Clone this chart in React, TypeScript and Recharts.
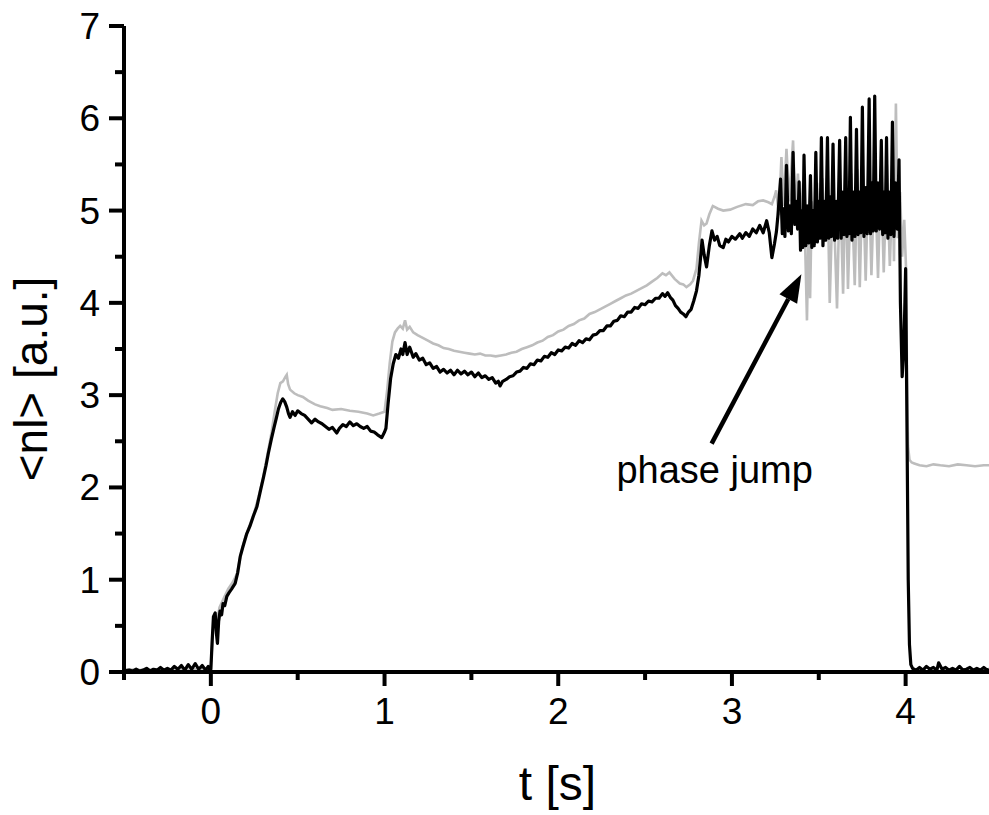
import { LineChart, Line, XAxis, YAxis, ReferenceLine, Label } from 'recharts';

// [t (s), <nl> (a.u.)]
const blackTrace: [number, number][] = [
  [-0.5, 0.01], [-0.47, 0.02], [-0.45, 0.01], [-0.43, 0.03], [-0.41, 0.01], [-0.39, 0.02], [-0.37, 0.04],
  [-0.35, 0.01], [-0.33, 0.03], [-0.31, 0.02], [-0.29, 0.05], [-0.27, 0.02], [-0.25, 0.04], [-0.23, 0.02],
  [-0.21, 0.06], [-0.19, 0.03], [-0.17, 0.07], [-0.15, 0.02], [-0.13, 0.08], [-0.11, 0.03], [-0.09, 0.09],
  [-0.07, 0.03], [-0.05, 0.07], [-0.03, 0.02], [-0.015, 0.06], [-0.005, 0.02],
  [0.0, 0.03], [0.008, 0.35], [0.015, 0.6], [0.025, 0.64], [0.032, 0.42], [0.038, 0.31], [0.045, 0.55],
  [0.053, 0.66], [0.062, 0.62], [0.07, 0.74], [0.08, 0.72], [0.092, 0.82], [0.105, 0.86], [0.12, 0.9],
  [0.14, 0.96], [0.155, 1.08], [0.169, 1.25], [0.185, 1.36], [0.207, 1.5], [0.225, 1.58], [0.245, 1.69],
  [0.265, 1.79], [0.285, 1.96], [0.303, 2.11], [0.318, 2.24], [0.331, 2.37], [0.348, 2.52], [0.364, 2.65],
  [0.378, 2.76], [0.389, 2.85], [0.402, 2.92], [0.414, 2.96], [0.425, 2.93], [0.437, 2.87], [0.447, 2.8],
  [0.456, 2.76], [0.47, 2.82], [0.485, 2.78], [0.5, 2.83], [0.52, 2.8], [0.54, 2.78], [0.56, 2.74],
  [0.58, 2.7], [0.6, 2.74], [0.62, 2.71], [0.64, 2.69], [0.66, 2.66], [0.68, 2.63], [0.7, 2.65],
  [0.725, 2.59], [0.74, 2.64], [0.76, 2.68], [0.78, 2.66], [0.8, 2.71], [0.82, 2.67], [0.84, 2.69],
  [0.86, 2.66], [0.88, 2.64], [0.9, 2.66], [0.92, 2.61], [0.94, 2.6], [0.96, 2.57], [0.984, 2.54],
  [1.0, 2.6], [1.008, 2.64],
  [1.02, 2.9], [1.035, 3.18], [1.05, 3.34], [1.065, 3.44], [1.08, 3.4], [1.095, 3.5], [1.105, 3.44],
  [1.118, 3.57], [1.13, 3.44], [1.145, 3.52], [1.165, 3.41], [1.18, 3.45], [1.2, 3.38], [1.22, 3.4],
  [1.24, 3.33], [1.26, 3.35], [1.28, 3.29], [1.3, 3.31], [1.32, 3.25], [1.34, 3.28], [1.36, 3.24],
  [1.38, 3.27], [1.4, 3.22], [1.42, 3.27], [1.44, 3.23], [1.46, 3.26], [1.48, 3.22], [1.5, 3.25],
  [1.52, 3.2], [1.54, 3.24], [1.56, 3.19], [1.58, 3.21], [1.6, 3.17], [1.62, 3.19], [1.64, 3.13],
  [1.655, 3.15], [1.665, 3.1], [1.68, 3.15], [1.7, 3.17], [1.72, 3.2], [1.74, 3.21], [1.76, 3.25],
  [1.78, 3.26], [1.8, 3.3], [1.82, 3.29], [1.84, 3.34], [1.86, 3.33], [1.88, 3.38], [1.9, 3.37],
  [1.92, 3.42], [1.94, 3.41], [1.96, 3.46], [1.98, 3.44], [2.0, 3.49], [2.02, 3.48], [2.04, 3.52],
  [2.06, 3.51], [2.08, 3.56], [2.1, 3.54], [2.12, 3.59], [2.14, 3.57], [2.16, 3.61], [2.18, 3.6],
  [2.2, 3.65], [2.22, 3.66], [2.24, 3.7], [2.26, 3.7], [2.28, 3.75], [2.3, 3.75], [2.32, 3.8],
  [2.34, 3.81], [2.36, 3.86], [2.38, 3.85], [2.4, 3.9], [2.42, 3.9], [2.44, 3.95], [2.46, 3.94],
  [2.48, 3.99], [2.5, 3.98], [2.52, 4.02], [2.54, 4.01], [2.56, 4.05], [2.58, 4.05], [2.6, 4.1],
  [2.615, 4.07], [2.63, 4.11], [2.645, 4.06], [2.66, 4.03], [2.675, 3.97], [2.69, 3.94], [2.705, 3.9],
  [2.72, 3.88], [2.735, 3.85], [2.75, 3.9], [2.765, 3.93], [2.78, 4.02], [2.796, 4.13], [2.81, 4.3],
  [2.82, 4.5], [2.828, 4.68], [2.84, 4.52], [2.854, 4.39], [2.87, 4.62], [2.885, 4.78], [2.9, 4.68],
  [2.915, 4.72], [2.93, 4.62], [2.95, 4.6], [2.965, 4.69], [2.98, 4.66], [3.0, 4.72], [3.02, 4.69],
  [3.045, 4.75], [3.06, 4.7], [3.08, 4.76], [3.1, 4.72], [3.12, 4.8], [3.14, 4.76], [3.16, 4.84],
  [3.18, 4.76], [3.2, 4.89], [3.215, 4.76], [3.23, 4.49], [3.245, 4.64], [3.256, 4.77],
  [3.265, 4.95], [3.28, 5.34], [3.29, 4.75], [3.297, 5.02], [3.305, 4.72], [3.314, 5.49], [3.325, 4.78],
  [3.333, 5.05], [3.342, 4.75], [3.352, 5.63], [3.362, 4.85], [3.37, 5.1], [3.378, 4.8], [3.387, 5.31],
  [3.395, 4.57], [3.402, 5.0], [3.408, 4.6], [3.415, 5.6], [3.425, 4.62], [3.433, 5.05], [3.442, 4.65],
  [3.452, 5.38], [3.46, 4.6], [3.467, 5.0], [3.474, 4.62], [3.483, 5.63], [3.492, 4.66], [3.5, 5.1],
  [3.507, 4.7], [3.515, 5.79], [3.524, 4.62], [3.532, 5.1], [3.54, 4.68], [3.55, 5.79], [3.558, 4.7],
  [3.566, 5.15], [3.573, 4.72], [3.582, 5.72], [3.591, 4.68], [3.6, 5.1], [3.609, 4.7], [3.62, 5.76],
  [3.629, 4.7], [3.637, 5.2], [3.645, 4.74], [3.655, 5.79], [3.662, 4.72], [3.668, 5.1], [3.674, 4.75],
  [3.682, 6.01], [3.691, 4.68], [3.7, 5.2], [3.708, 4.72], [3.717, 5.88], [3.726, 4.74], [3.734, 5.2],
  [3.742, 4.76], [3.751, 6.12], [3.76, 4.72], [3.77, 5.25], [3.779, 4.75], [3.79, 6.21], [3.798, 4.75],
  [3.806, 5.3], [3.813, 4.78], [3.822, 6.24], [3.831, 4.78], [3.84, 5.3], [3.85, 4.8], [3.86, 5.76],
  [3.868, 4.74], [3.875, 5.2], [3.882, 4.76], [3.89, 5.79], [3.898, 4.7], [3.907, 5.2], [3.915, 4.74],
  [3.924, 5.96], [3.933, 4.72], [3.942, 5.3], [3.952, 4.8], [3.962, 5.55],
  [3.97, 4.0], [3.98, 3.2], [3.99, 3.5], [4.0, 4.37], [4.008, 2.6], [4.015, 1.0], [4.022, 0.3],
  [4.03, 0.08], [4.04, 0.04], [4.06, 0.02], [4.08, 0.05], [4.1, 0.02], [4.12, 0.06], [4.14, 0.03],
  [4.16, 0.05], [4.18, 0.02], [4.19, 0.1], [4.21, 0.03], [4.23, 0.05], [4.25, 0.02], [4.27, 0.04],
  [4.29, 0.02], [4.31, 0.06], [4.33, 0.02], [4.35, 0.03], [4.37, 0.05], [4.39, 0.02], [4.41, 0.04],
  [4.43, 0.02], [4.45, 0.05], [4.47, 0.02], [4.48, 0.03],
];

const grayTrace: [number, number][] = [
  [-0.5, 0.03], [-0.4, 0.02], [-0.3, 0.03], [-0.2, 0.02], [-0.1, 0.03], [0.0, 0.03], [0.01, 0.4],
  [0.02, 0.62], [0.035, 0.55], [0.05, 0.7], [0.075, 0.8], [0.1, 0.9], [0.125, 0.97], [0.15, 1.06],
  [0.175, 1.3], [0.2, 1.47], [0.225, 1.6], [0.25, 1.73], [0.275, 1.9], [0.3, 2.1], [0.325, 2.35],
  [0.35, 2.6], [0.37, 2.85], [0.385, 3.02], [0.4, 3.13], [0.415, 3.15], [0.43, 3.2], [0.437, 3.22],
  [0.445, 3.12], [0.456, 3.06], [0.48, 3.02], [0.5, 3.0], [0.53, 2.98], [0.56, 2.94], [0.6, 2.9],
  [0.63, 2.88], [0.67, 2.86], [0.7, 2.84], [0.75, 2.85], [0.8, 2.83], [0.85, 2.82], [0.9, 2.8],
  [0.935, 2.78], [0.97, 2.8], [1.0, 2.82], [1.015, 3.05], [1.03, 3.35], [1.045, 3.58], [1.06, 3.68],
  [1.075, 3.72], [1.09, 3.75], [1.105, 3.72], [1.118, 3.81], [1.13, 3.71], [1.145, 3.74], [1.165, 3.68],
  [1.19, 3.65], [1.22, 3.62], [1.25, 3.59], [1.28, 3.56], [1.31, 3.54], [1.34, 3.51], [1.37, 3.5],
  [1.4, 3.48], [1.43, 3.47], [1.46, 3.46], [1.49, 3.45], [1.52, 3.44], [1.55, 3.45], [1.58, 3.43],
  [1.61, 3.43], [1.64, 3.42], [1.67, 3.43], [1.7, 3.44], [1.73, 3.46], [1.76, 3.47], [1.79, 3.5],
  [1.82, 3.52], [1.85, 3.54], [1.88, 3.57], [1.91, 3.59], [1.94, 3.63], [1.97, 3.65], [2.0, 3.69],
  [2.03, 3.71], [2.06, 3.75], [2.09, 3.77], [2.12, 3.81], [2.15, 3.83], [2.18, 3.88], [2.21, 3.9],
  [2.24, 3.93], [2.27, 3.96], [2.3, 3.99], [2.33, 4.02], [2.36, 4.05], [2.39, 4.08], [2.42, 4.1],
  [2.45, 4.13], [2.48, 4.16], [2.51, 4.19], [2.54, 4.23], [2.57, 4.27], [2.6, 4.32], [2.62, 4.3],
  [2.64, 4.33], [2.67, 4.26], [2.7, 4.21], [2.72, 4.2], [2.738, 4.17], [2.76, 4.2], [2.776, 4.24],
  [2.796, 4.37], [2.81, 4.65], [2.825, 4.89], [2.84, 4.84], [2.854, 4.86], [2.87, 4.96], [2.89, 5.05],
  [2.92, 5.02], [2.95, 5.0], [2.99, 5.01], [3.03, 5.04], [3.08, 5.07], [3.12, 5.06], [3.15, 5.1],
  [3.18, 5.11], [3.21, 5.09], [3.23, 5.07], [3.245, 5.15], [3.255, 5.22],
  [3.27, 4.95], [3.285, 5.58], [3.298, 5.05], [3.314, 5.67], [3.33, 5.1], [3.352, 5.76], [3.365, 5.0],
  [3.38, 5.4], [3.395, 4.85], [3.41, 5.3], [3.422, 4.6], [3.432, 3.81], [3.442, 4.9], [3.45, 4.05],
  [3.46, 5.1], [3.475, 4.75], [3.49, 5.3], [3.505, 4.75], [3.52, 5.35], [3.537, 4.72], [3.55, 5.3],
  [3.563, 4.0], [3.582, 5.3], [3.605, 3.94], [3.622, 5.35], [3.64, 4.1], [3.655, 5.4], [3.668, 4.15],
  [3.687, 5.4], [3.707, 4.19], [3.722, 5.45], [3.736, 4.17], [3.753, 5.5], [3.77, 4.24], [3.787, 5.5],
  [3.803, 4.3], [3.822, 5.5], [3.841, 4.27], [3.858, 5.45], [3.874, 4.33], [3.892, 5.5], [3.909, 4.4],
  [3.925, 5.3], [3.933, 4.45], [3.944, 6.16], [3.955, 4.7], [3.968, 5.2], [3.98, 4.5], [3.992, 4.9],
  [4.002, 4.4], [4.008, 3.2], [4.014, 2.45], [4.022, 2.3], [4.035, 2.27], [4.05, 2.26], [4.08, 2.24],
  [4.12, 2.23], [4.16, 2.25], [4.2, 2.24], [4.25, 2.23], [4.3, 2.25], [4.35, 2.24], [4.4, 2.23],
  [4.45, 2.24], [4.48, 2.24],
];

const xTicks = [-0.5, 0, 0.5, 1, 1.5, 2, 2.5, 3, 3.5, 4];
const yTicks = [0, 0.5, 1, 1.5, 2, 2.5, 3, 3.5, 4, 4.5, 5, 5.5, 6, 6.5, 7];

const arrowFrom = { t: 2.883, n: 2.475 };
const arrowTo = { t: 3.4, n: 4.31 };

const blackData = blackTrace.map(([t, n]) => ({ t, n }));
const grayData = grayTrace.map(([t, n]) => ({ t, n }));

const AXIS_BOX = 30;
const isMajor = (v: number) => Math.abs(v - Math.round(v)) < 1e-6;

const XTick = ({ x, y, payload }: any) => {
  const major = isMajor(payload.value);
  return (
    <g>
      <line x1={x} x2={x} y1={y} y2={y + (major ? 14 : 8)} stroke="#000" strokeWidth={4} />
      {major && (
        <text x={x} y={y + 52} textAnchor="middle" fontSize={37} fill="#000">
          {payload.value}
        </text>
      )}
    </g>
  );
};

const YTick = ({ x, y, payload }: any) => {
  const major = isMajor(payload.value);
  return (
    <g>
      <line x1={x} x2={x - (major ? 15 : 9)} y1={y} y2={y} stroke="#000" strokeWidth={4} />
      {major && (
        <text x={x - 24} y={y + 13} textAnchor="end" fontSize={37} fill="#000">
          {payload.value}
        </text>
      )}
    </g>
  );
};

const XTitle = ({ viewBox }: any) => (
  <text x={viewBox.x + viewBox.width / 2 + 1} y={viewBox.y + 128} textAnchor="middle" fontSize={48} fill="#000">
    t [s]
  </text>
);

const YTitle = ({ viewBox }: any) => {
  const cx = 47;
  const cy = viewBox.y + viewBox.height / 2 + 30;
  return (
    <text x={cx} y={cy} transform={`rotate(-90 ${cx} ${cy})`} textAnchor="middle" fontSize={46} fill="#000">
      {'<nl> [a.u.]'}
    </text>
  );
};

const ArrowShape = (props: any) => {
  const { x1, y1, x2, y2 } = props;
  const ang = Math.atan2(y2 - y1, x2 - x1);
  const headLen = 28;
  const headHalf = 10;
  const bx = x2 - headLen * Math.cos(ang);
  const by = y2 - headLen * Math.sin(ang);
  const ox = -Math.sin(ang) * headHalf;
  const oy = Math.cos(ang) * headHalf;
  return (
    <g>
      <line x1={x1} y1={y1} x2={bx} y2={by} stroke="#000" strokeWidth={4.5} />
      <polygon points={`${x2},${y2} ${bx + ox},${by + oy} ${bx - ox},${by - oy}`} fill="#000" />
      <text x={x1 + 3} y={y1 + 39} textAnchor="middle" fontSize={38} fill="#000">
        phase jump
      </text>
    </g>
  );
};

export default function App() {
  return (
    <div style={{ position: 'absolute', left: 0, top: 0, width: 989, height: 815, background: '#fff' }}>
      <LineChart
        width={989}
        height={815}
        margin={{ top: 26, right: 0, bottom: 143 - AXIS_BOX, left: 124 - AXIS_BOX }}
        style={{ fontFamily: '"Liberation Sans", Arial, sans-serif' }}
      >
        <XAxis
          type="number"
          dataKey="t"
          domain={[-0.5, 4.48]}
          allowDataOverflow
          ticks={xTicks}
          interval={0}
          height={AXIS_BOX}
          tickSize={0}
          tickMargin={0}
          tickLine={false}
          axisLine={{ stroke: '#000', strokeWidth: 4 }}
          tick={<XTick />}
        >
          <Label content={<XTitle />} />
        </XAxis>
        <YAxis
          type="number"
          domain={[0, 7]}
          allowDataOverflow
          ticks={yTicks}
          interval={0}
          width={AXIS_BOX}
          tickSize={0}
          tickMargin={0}
          tickLine={false}
          axisLine={{ stroke: '#000', strokeWidth: 4 }}
          tick={<YTick />}
        >
          <Label content={<YTitle />} />
        </YAxis>
        <Line
          data={grayData}
          dataKey="n"
          type="linear"
          stroke="#bdbdbd"
          strokeWidth={2.6}
          dot={false}
          activeDot={false}
          isAnimationActive={false}
        />
        <Line
          data={blackData}
          dataKey="n"
          type="linear"
          stroke="#000"
          strokeWidth={3.2}
          strokeLinejoin="round"
          dot={false}
          activeDot={false}
          isAnimationActive={false}
        />
        <ReferenceLine
          segment={[
            { x: arrowFrom.t, y: arrowFrom.n },
            { x: arrowTo.t, y: arrowTo.n },
          ]}
          ifOverflow="visible"
          shape={<ArrowShape />}
        />
      </LineChart>
    </div>
  );
}
